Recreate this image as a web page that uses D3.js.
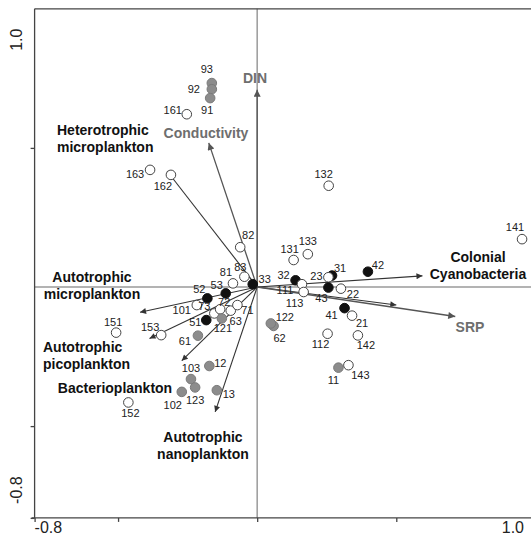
<!DOCTYPE html>
<html>
<head>
<meta charset="utf-8">
<script src="https://cdn.jsdelivr.net/npm/d3@7"></script>
<style>
  html, body { margin: 0; padding: 0; background: #fff; }
  svg { display: block; }
  text { font-family: "Liberation Sans", Arial, sans-serif; }
</style>
</head>
<body>
<div id="chart"></div>
<script>
// ---------- DATA ----------
// Sample scores (id, axis1, axis2, group): group = "open" | "black" | "gray"
const sampleIds = ["93","92","91","161","163","162","82","133","131","132","141","81","83","33","32","111","113","31","23","43","22","42","41","21","112","142","11","143","62","122","53","52","101","73","72","63","71","51","121","61","153","151","12","103","123","102","13","152"];
const sampleAx1 = [-0.163,-0.163,-0.169,-0.253,-0.385,-0.310,-0.061,0.182,0.131,0.257,0.952,-0.087,-0.046,-0.016,0.138,0.161,0.167,0.269,0.256,0.256,0.301,0.398,0.314,0.341,0.253,0.362,0.292,0.328,0.059,0.049,-0.113,-0.179,-0.217,-0.154,-0.133,-0.095,-0.071,-0.183,-0.127,-0.213,-0.345,-0.507,-0.172,-0.238,-0.223,-0.271,-0.145,-0.463];
const sampleAx2 = [0.733,0.711,0.679,0.621,0.421,0.403,0.143,0.118,0.097,0.364,0.172,0.013,0.037,0.010,0.024,0.010,-0.018,0.041,0.035,-0.002,-0.006,0.055,-0.076,-0.103,-0.168,-0.174,-0.290,-0.281,-0.140,-0.131,-0.023,-0.041,-0.065,-0.095,-0.080,-0.085,-0.065,-0.119,-0.113,-0.175,-0.173,-0.164,-0.284,-0.331,-0.361,-0.377,-0.371,-0.415];
const sampleGroup = ["gray","gray","gray","open","open","open","open","open","open","open","open","open","open","black","black","open","open","black","open","black","open","black","black","open","open","open","gray","open","gray","gray","black","black","open","open","open","open","open","black","gray","gray","open","open","gray","gray","gray","gray","gray","open"];

// Species arrows
const speciesNames = [["Heterotrophic","microplankton"],["Colonial","Cyanobacteria"],["Autotrophic","microplankton"],["Autotrophic","picoplankton"],["Bacterioplankton"],["Autotrophic","nanoplankton"],[]];
const speciesAx1 = [-0.324, 0.594, -0.421, -0.387, -0.271, -0.151, 0.500];
const speciesAx2 = [0.417, 0.040, -0.091, -0.185, -0.265, -0.449, -0.065];

// Environmental arrows
const envNames = ["DIN","Conductivity","SRP"];
const envAx1 = [0.000, -0.174, 0.712];
const envAx2 = [0.709, 0.518, -0.106];

// Axis end labels
const xEndLabels = ["-0.8","1.0"];
const yEndLabels = ["1.0","-0.8"];

// ---------- LAYOUT ----------
const W = 531, H = 535;
const x = d3.scaleLinear().domain([-0.8, 1.0]).range([34.6, 535.4]);
const y = d3.scaleLinear().domain([-0.83, 1.0]).range([517.9, 8.8]);

// label offsets for sample labels (pixels, text centre relative to point)
const sampleLabelOffset = {
  "93":[-5,-14],"92":[-18,0],"91":[-3,12],"161":[-14,-4],"163":[-15,4],"162":[-8,11],
  "82":[8,-12],"133":[0,-13],"131":[-4,-11],"132":[-5,-12],"141":[-7,-12],"81":[-7,-11],
  "83":[-4,-10],"33":[12,-5],"32":[-12,-5],"111":[-17,6],"113":[-9,11],"23":[-12,-1],
  "31":[8,-7],"43":[-7,11],"22":[12,5],"42":[10,-7],"41":[-13,7],"21":[10,7],"112":[-7,10],
  "142":[8,10],"11":[-5,12],"143":[12,10],"122":[14,-6],"62":[6,12],"53":[-9,-8],"52":[-8,-9],
  "101":[-15,5],"73":[-10,-7],"72":[4,-7],"63":[5,11],"71":[10,5],"51":[-11,2],"121":[1,10],
  "61":[-13,5],"153":[-11,-8],"151":[-3,-10],"12":[11,-3],"103":[0,-11],"123":[0,13],
  "102":[-9,13],"13":[12,4],"152":[2,11]
};
// species label placement: [x, firstLineCentreY, anchor]
const speciesLabelPos = [[57,130,"start"],[478,257,"middle"],[92,277,"middle"],[43,347,"start"],[115,388,"middle"],[203,437,"middle"],null];
const envLabelPos = [[255,78],[206,133],[470,327]];

const svg = d3.select("#chart").append("svg").attr("width", W).attr("height", H);

// arrow markers
const defs = svg.append("defs");
defs.append("marker").attr("id","ah").attr("viewBox","0 0 10 10")
  .attr("refX",10).attr("refY",5).attr("markerWidth",9).attr("markerHeight",6)
  .attr("markerUnits","userSpaceOnUse").attr("orient","auto")
  .append("path").attr("d","M0,0 L10,5 L0,10 Z").attr("fill","#333");
defs.append("marker").attr("id","ahg").attr("viewBox","0 0 10 10")
  .attr("refX",10).attr("refY",5).attr("markerWidth",11).attr("markerHeight",7)
  .attr("markerUnits","userSpaceOnUse").attr("orient","auto")
  .append("path").attr("d","M0,0 L10,5 L0,10 Z").attr("fill","#555");

// zero lines
svg.append("line").attr("x1", x(-0.8)).attr("x2", W).attr("y1", y(0)).attr("y2", y(0))
  .attr("stroke","#9a9a9a").attr("stroke-width",1.5);
svg.append("line").attr("x1", x(0)).attr("x2", x(0)).attr("y1", y(1.0)).attr("y2", y(-0.83))
  .attr("stroke","#9a9a9a").attr("stroke-width",1.5);

// frame + axes
const frame = svg.append("g").attr("stroke","#444").attr("stroke-width",1.3);
frame.append("line").attr("x1", x(-0.8)).attr("x2", W).attr("y1", y(1.0)).attr("y2", y(1.0));

const gx = svg.append("g").attr("transform", `translate(0,${y(-0.83)})`)
  .call(d3.axisBottom(x).tickValues([-0.8,-0.5,0,0.5]).tickSize(4).tickFormat(""));
gx.select(".domain").attr("d", `M${x(-0.8)-3},0H${W}`);
const gy = svg.append("g").attr("transform", `translate(${x(-0.8)},0)`)
  .call(d3.axisLeft(y).tickValues([-0.83,-0.5,0.5]).tickSize(4).tickFormat(""));
gy.select(".domain").attr("d", `M0,${y(1.0)}V${y(-0.83)}`);
svg.selectAll(".domain, .tick line").attr("stroke","#444").attr("stroke-width",1.3);

// axis end labels
svg.append("text").attr("x", x(-0.8)).attr("y", 533).attr("font-size",16).attr("fill","#222")
  .attr("text-anchor","start").text(xEndLabels[0]);
svg.append("text").attr("x", 524).attr("y", 533).attr("font-size",16).attr("fill","#222")
  .attr("text-anchor","end").text(xEndLabels[1]);
svg.append("text").attr("transform", `translate(22,${y(1.0)+42}) rotate(-90)`).attr("font-size",16)
  .attr("fill","#222").attr("text-anchor","start").text(yEndLabels[0]);
svg.append("text").attr("transform", `translate(22,${y(-0.83)-14}) rotate(-90)`).attr("font-size",16)
  .attr("fill","#222").attr("text-anchor","start").text(yEndLabels[1]);

// arrows
const species = speciesAx1.map((v,i)=>({name:speciesNames[i], a1:v, a2:speciesAx2[i], pos:speciesLabelPos[i]}));
svg.append("g").selectAll("line").data(species).join("line")
  .attr("x1", x(0)).attr("y1", y(0)).attr("x2", d=>x(d.a1)).attr("y2", d=>y(d.a2))
  .attr("stroke","#333").attr("stroke-width",1.1).attr("marker-end","url(#ah)");
const env = envAx1.map((v,i)=>({name:envNames[i], a1:v, a2:envAx2[i], pos:envLabelPos[i]}));
svg.append("g").selectAll("line").data(env).join("line")
  .attr("x1", x(0)).attr("y1", y(0)).attr("x2", d=>x(d.a1)).attr("y2", d=>y(d.a2))
  .attr("stroke","#555").attr("stroke-width",1.3).attr("marker-end","url(#ahg)");

// samples
const samples = sampleIds.map((id,i)=>({id, a1:sampleAx1[i], a2:sampleAx2[i], g:sampleGroup[i]}));
const fillFor = {open:"#fff", black:"#111", gray:"#8c8c8c"};
const strokeFor = {open:"#444", black:"#111", gray:"#7a7a7a"};
svg.append("g").selectAll("circle").data(samples).join("circle")
  .attr("cx", d=>x(d.a1)).attr("cy", d=>y(d.a2)).attr("r", 4.8)
  .attr("fill", d=>fillFor[d.g]).attr("stroke", d=>strokeFor[d.g]).attr("stroke-width",1);

svg.append("g").selectAll("text").data(samples).join("text")
  .attr("x", d=>x(d.a1)+sampleLabelOffset[d.id][0])
  .attr("y", d=>y(d.a2)+sampleLabelOffset[d.id][1])
  .attr("dy","0.35em").attr("text-anchor","middle").attr("font-size",11).attr("fill","#222")
  .text(d=>d.id);

// species labels
species.filter(d=>d.pos && d.name.length).forEach(d=>{
  const t = svg.append("text").attr("font-size",14).attr("font-weight","bold").attr("fill","#111")
    .attr("text-anchor", d.pos[2]);
  d.name.forEach((ln,k)=>{
    t.append("tspan").attr("x", d.pos[0]).attr("y", d.pos[1] + k*17.5).attr("dy","0.35em").text(ln);
  });
});
// env labels
svg.append("g").selectAll("text").data(env).join("text")
  .attr("x", d=>d.pos[0]).attr("y", d=>d.pos[1]).attr("dy","0.35em")
  .attr("text-anchor","middle").attr("font-size",14).attr("font-weight","bold").attr("fill","#6e6e6e")
  .text(d=>d.name);
</script>
</body>
</html>
